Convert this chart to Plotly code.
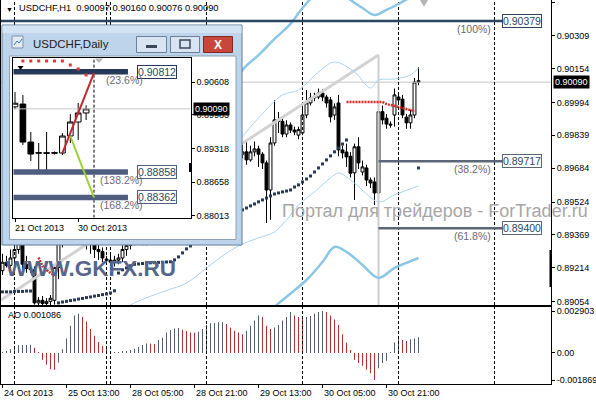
import plotly.graph_objects as go

# ---------------- H1 chart data (USDCHF, H1) ----------------
h1_open = [0.89200,0.89240,0.89225,0.89260,0.89300,0.89340,0.89230,0.89210,0.89204,0.89048,
0.89060,0.89045,0.89055,0.89060,0.89215,0.89330,0.89450,0.89560,0.89600,0.89520,
0.89430,0.89380,0.89340,0.89360,0.89300,0.89290,0.89255,0.89250,0.89240,0.89250,
0.89260,0.89300,0.89320,0.89360,0.89380,0.89410,0.89350,0.89400,0.89360,0.89420,
0.89460,0.89490,0.89520,0.89540,0.89530,0.89510,0.89500,0.89540,0.89580,0.89560,
0.89570,0.89560,0.89580,0.89620,0.89660,0.89700,0.89690,0.89740,0.89780,0.89760,
0.89750,0.89761,0.89723,0.89761,0.89775,0.89750,0.89709,0.89581,0.89803,0.89912,
0.89905,0.89845,0.89888,0.89864,0.89840,0.89850,0.89935,0.89992,0.90016,0.90020,
0.90039,0.90020,0.90006,0.89935,0.89992,0.89770,0.89760,0.89740,0.89662,0.89785,
0.89666,0.89685,0.89628,0.89619,0.89567,0.89951,0.89920,0.89892,0.89935,0.90020,
0.90010,0.89925,0.89898,0.89935,0.90097]
h1_high = [0.89280,0.89270,0.89300,0.89330,0.89380,0.89360,0.89270,0.89240,0.89220,0.89075,
0.89080,0.89070,0.89085,0.89230,0.89360,0.89480,0.89580,0.89640,0.89620,0.89560,
0.89470,0.89420,0.89400,0.89390,0.89340,0.89310,0.89270,0.89280,0.89270,0.89280,
0.89320,0.89340,0.89380,0.89400,0.89430,0.89450,0.89420,0.89440,0.89450,0.89480,
0.89510,0.89540,0.89560,0.89570,0.89560,0.89540,0.89560,0.89600,0.89610,0.89590,
0.89600,0.89600,0.89640,0.89680,0.89720,0.89740,0.89760,0.89800,0.89820,0.89790,
0.89800,0.89817,0.89790,0.89810,0.89790,0.89760,0.89720,0.89830,0.90006,0.89949,
0.89930,0.89910,0.89900,0.89880,0.89880,0.89992,0.90053,0.90040,0.90040,0.90060,
0.90056,0.90030,0.90020,0.89990,0.90030,0.89790,0.89800,0.89760,0.89800,0.89830,
0.89720,0.89700,0.89640,0.89640,0.90218,0.89980,0.89940,0.89905,0.90060,0.90040,
0.90030,0.89940,0.89960,0.90110,0.90160]
h1_low = [0.89180,0.89215,0.89210,0.89240,0.89280,0.89205,0.89190,0.89190,0.89040,0.89030,
0.89020,0.89000,0.88990,0.89040,0.89160,0.89310,0.89420,0.89500,0.89480,0.89400,
0.89330,0.89300,0.89280,0.89260,0.89250,0.89240,0.89230,0.89220,0.89220,0.89230,
0.89240,0.89270,0.89300,0.89320,0.89340,0.89320,0.89320,0.89330,0.89340,0.89380,
0.89420,0.89450,0.89480,0.89500,0.89490,0.89470,0.89480,0.89520,0.89540,0.89530,
0.89540,0.89530,0.89560,0.89600,0.89630,0.89660,0.89670,0.89720,0.89740,0.89720,
0.89730,0.89700,0.89715,0.89740,0.89690,0.89680,0.89425,0.89440,0.89790,0.89850,
0.89830,0.89830,0.89850,0.89840,0.89820,0.89840,0.89920,0.89980,0.90000,0.90010,
0.90000,0.89970,0.89900,0.89912,0.89740,0.89730,0.89690,0.89640,0.89534,0.89680,
0.89650,0.89600,0.89590,0.89510,0.89501,0.89890,0.89870,0.89875,0.89880,0.89990,
0.89920,0.89870,0.89870,0.89920,0.90076]
h1_close = [0.89240,0.89225,0.89260,0.89300,0.89350,0.89230,0.89210,0.89205,0.89048,0.89060,
0.89045,0.89055,0.89070,0.89215,0.89330,0.89450,0.89560,0.89600,0.89520,0.89430,
0.89380,0.89340,0.89360,0.89300,0.89290,0.89260,0.89250,0.89240,0.89250,0.89260,
0.89300,0.89320,0.89360,0.89380,0.89410,0.89350,0.89400,0.89360,0.89420,0.89460,
0.89490,0.89520,0.89540,0.89530,0.89510,0.89500,0.89540,0.89580,0.89560,0.89570,
0.89560,0.89580,0.89620,0.89660,0.89700,0.89690,0.89740,0.89780,0.89760,0.89750,
0.89761,0.89723,0.89761,0.89775,0.89750,0.89709,0.89581,0.89803,0.89912,0.89905,
0.89845,0.89888,0.89864,0.89855,0.89866,0.89935,0.89992,0.90016,0.90020,0.90039,
0.90020,0.89992,0.89926,0.89973,0.89770,0.89756,0.89737,0.89660,0.89785,0.89709,
0.89690,0.89628,0.89614,0.89567,0.89951,0.89912,0.89892,0.89888,0.90030,0.90006,
0.89935,0.89898,0.89935,0.90091,0.90090]
h1_index = list(range(len(h1_close)))

# Parabolic SAR (dark, below price) and red dotted line (above price)
sar_dark = [0.89100,0.89100,0.89100,0.89102,0.89102,0.89102,0.89104,0.89104,None,None,
None,None,None,None,0.89048,0.89052,0.89055,0.89059,0.89062,0.89066,
0.89069,0.89073,0.89076,0.89080,0.89083,0.89087,0.89090,0.89095,0.89105,0.89189,
0.89204,0.89213,0.89223,0.89230,0.89232,0.89234,0.89236,0.89237,0.89238,0.89239,
0.89240,0.89241,0.89242,0.89251,0.89265,0.89284,0.89303,0.89317,0.89331,0.89345,
0.89355,0.89369,0.89383,0.89397,0.89407,0.89421,0.89435,0.89449,0.89463,0.89477,
0.89487,0.89496,0.89506,0.89515,0.89525,0.89534,0.89543,0.89553,0.89562,0.89567,
0.89572,0.89576,0.89581,0.89595,0.89605,0.89619,0.89633,0.89647,0.89666,0.89685,
0.89704,0.89723,0.89742,0.89761,0.89779,0.89798,0.89817,None,None,None,
None,None,None,None,None,None,None,None,None,None,
None,None,None,None,0.89685]
sar_red = ([None] * 9 + [0.89262, 0.89223, 0.89204, 0.89189, 0.89175] + [None] * 72
           + [0.89997] * 10
           + [0.89987, 0.89982, 0.89978, 0.89973, 0.89968, 0.89964, 0.89959, 0.89954, None])

# band lines (light blue), sampled at bar indices
thick_up_i = [40, 48, 56, 60, 64, 68, 72, 75, 79, 83, 87, 90, 93, 96, 99, 102, 104]
thick_up_p = [0.89850, 0.89950, 0.90006, 0.90148, 0.90218, 0.90294, 0.90365, 0.90440, 0.90516,
              0.90535, 0.90478, 0.90440, 0.90407, 0.90431, 0.90459, 0.90492, 0.90516]
thick_lo_i = [60, 68, 76, 80, 83, 86, 90, 94, 98, 101, 104]
thick_lo_p = [0.88873, 0.89029, 0.89156, 0.89241, 0.89312, 0.89289, 0.89227, 0.89166, 0.89213, 0.89237, 0.89260]
thin_up_i = [40, 50, 59, 64, 70, 74, 79, 83, 88, 92, 94, 98, 102, 104]
thin_up_p = [0.89600, 0.89700, 0.89817, 0.89921, 0.90030, 0.90053, 0.90138, 0.90185, 0.90138,
             0.90063, 0.90100, 0.90105, 0.90124, 0.90157]
thin_lo_i = [28, 33, 40, 46, 51, 55, 59, 64, 68, 71, 74, 78, 82, 84, 88, 94, 98, 104]
thin_lo_p = [0.88990, 0.89048, 0.89100, 0.89142, 0.89213, 0.89270, 0.89317, 0.89355, 0.89383,
             0.89440, 0.89510, 0.89572, 0.89638, 0.89661, 0.89614, 0.89525, 0.89558, 0.89600]

# Fibonacci objects
fibo_levels = [0.90379, 0.89717, 0.89400]
fibo_pct = ["(100%)", "(38.2%)", "(61.8%)"]
fibo_start = [-0.375, 94, 94]
fibo_end = 124.9
fibo_colors = ["#2c4660", "#5b6777", "#5b6777"]
fibo_trend_i = [-0.375, 94]
fibo_trend_p = [0.89062, 0.90218]

# Awesome Oscillator
ao = [0.00006,0.00013,0.00025,0.00048,0.00053,0.00055,0.00056,0.00057,0.00036,0.00006,
-0.00046,-0.00081,-0.00112,-0.00116,-0.00065,0.00025,0.00100,0.00189,0.00260,0.00271,
0.00248,0.00217,0.00166,0.00119,0.00076,0.00048,0.00029,0.00006,0.00004,0.00005,
0.00007,0.00011,0.00020,0.00029,0.00041,0.00055,0.00065,0.00063,0.00062,0.00090,
0.00105,0.00142,0.00159,0.00170,0.00173,0.00161,0.00152,0.00142,0.00140,0.00147,
0.00166,0.00194,0.00206,0.00208,0.00213,0.00215,0.00201,0.00177,0.00154,0.00142,
0.00130,0.00154,0.00189,0.00224,0.00260,0.00248,0.00189,0.00166,0.00177,0.00194,
0.00224,0.00248,0.00283,0.00260,0.00248,0.00241,0.00248,0.00255,0.00271,0.00283,
0.002903,0.00283,0.00260,0.00231,0.00194,0.00130,0.00072,0.00020,-0.00046,-0.00069,
-0.00088,-0.00116,-0.00140,-0.001869,-0.00105,-0.00069,-0.00053,0.00002,0.00072,0.00114,
0.00090,0.00083,0.00095,0.00100,0.001086]

# axes ticks / labels
x_label_pos = [0, 16, 32, 48, 64, 80, 96]
x_label_text = ["24 Oct 2013", "25 Oct 13:00", "28 Oct 05:00", "28 Oct 21:00",
                "29 Oct 13:00", "30 Oct 05:00", "30 Oct 21:00"]
day_sep_pos = [3, 26, 27, 51, 75, 99, 123]
price_ticks = [0.90464, 0.90309, 0.90154, 0.89994, 0.89839, 0.89684, 0.89524, 0.89369, 0.89214, 0.89054]
ao_ticks = [0.002903, 0.0, -0.001869]
ao_tick_text = ["0.002903", "0.00", "-0.001869"]

# ---------------- Daily inset data ----------------
d_open = [0.90130, 0.90184, 0.89443, 0.89225, 0.89235, 0.89225, 0.89229, 0.89561, 0.89834, 0.90010]
d_high = [0.90420, 0.90360, 0.89639, 0.89424, 0.89639, 0.89260, 0.89619, 0.89988, 0.90204, 0.90160]
d_low = [0.90080, 0.89385, 0.89073, 0.88898, 0.88898, 0.89200, 0.89190, 0.89424, 0.89483, 0.89873]
d_close = [0.90200, 0.89443, 0.89209, 0.89235, 0.89225, 0.89235, 0.89561, 0.89834, 0.90010, 0.90090]
d_index = list(range(len(d_close)))
d_sar_i = [1, 2, 3, 4, 5, 6, 7, 8, 9]
d_sar = [0.91023, 0.91023, 0.91023, 0.91023, 0.91023, 0.91023, 0.90945, 0.90867, 0.90750]
d_label_pos = [0, 8]
d_label_text = ["21 Oct 2013", "30 Oct 2013"]
d_ticks = [0.90608, 0.89983, 0.89318, 0.88658, 0.88013]
d_fibo_levels = [0.90812, 0.88858, 0.88362]
d_fibo_pct = ["(23.6%)", "(138.2%)", "(168.2%)"]
d_fibo_colors = ["#26395a", "#4f5e7e", "#4f5e7e"]
d_fibo_end = 14.3
d_red_i, d_red_p = [6, 10], [0.89229, 0.90790]
d_green_i, d_green_p = [7, 10], [0.89561, 0.88362]
d_sep = 10

# ---------------- geometry ----------------
W, H = 596, 400
ML, MR, MT, MB = 1, 45, 0, 16
PW = W - ML - MR
PH = H - MT - MB


def pxx(v):
    return (v - ML) / PW


def pxy(v):
    return (H - MB - v) / PH


FONT = "Liberation Sans, Arial, sans-serif"
X_RANGE = [-0.375, 137.125]
Y_RANGE = [0.89038, 0.90478]
AO_RANGE = [-0.002145, 0.00318]
DX_RANGE = [-0.215, 22.24]
DY_RANGE = [0.87968, 0.91076]

fig = go.Figure()

# ---- main pane (xy) ----
last = h1_close[-1]
fig.add_trace(go.Scatter(x=X_RANGE, y=[last, last], mode="lines",
                         line=dict(color="#c6c6c6", width=1), xaxis="x", yaxis="y"))
sx, sy = [], []
for s in day_sep_pos:
    sx += [s, s, None]
    sy += [Y_RANGE[0], Y_RANGE[1], None]
fig.add_trace(go.Scatter(x=sx, y=sy, mode="lines",
                         line=dict(color="black", width=1, dash="3px,2px"), xaxis="x", yaxis="y"))
fig.add_trace(go.Scatter(x=fibo_trend_i, y=fibo_trend_p, mode="lines",
                         line=dict(color="#d2d2d2", width=3), xaxis="x", yaxis="y"))
fig.add_trace(go.Scatter(x=[fibo_trend_i[1]] * 2, y=[fibo_trend_p[1], Y_RANGE[0]], mode="lines",
                         line=dict(color="#cdcdcd", width=2), xaxis="x", yaxis="y"))
for xi, yp, w, c in [(thin_up_i, thin_up_p, 1, "#aad6ee"), (thin_lo_i, thin_lo_p, 1, "#aad6ee"),
                     (thick_up_i, thick_up_p, 2.5, "#8cc6e6"), (thick_lo_i, thick_lo_p, 2.5, "#8cc6e6")]:
    fig.add_trace(go.Scatter(x=xi, y=yp, mode="lines", line=dict(color=c, width=w, shape="spline"),
                             xaxis="x", yaxis="y"))
for lv, st, col in zip(fibo_levels, fibo_start, fibo_colors):
    fig.add_trace(go.Scatter(x=[st, fibo_end], y=[lv, lv], mode="lines",
                             line=dict(color=col, width=2.5), xaxis="x", yaxis="y"))
fig.add_trace(go.Candlestick(x=h1_index, open=h1_open, high=h1_high, low=h1_low, close=h1_close,
                             increasing=dict(fillcolor="white", line=dict(color="black", width=1)),
                             decreasing=dict(fillcolor="black", line=dict(color="black", width=1)),
                             xaxis="x", yaxis="y"))
fig.add_trace(go.Scatter(x=h1_index, y=sar_dark, mode="markers",
                         marker=dict(symbol="square", size=3, color="#2a3957"), xaxis="x", yaxis="y"))
fig.add_trace(go.Scatter(x=h1_index, y=sar_red, mode="lines",
                         line=dict(color="#d52a2a", width=2.5, dash="2px,1px"), xaxis="x", yaxis="y"))

# ---- AO pane (x2y2) ----
sx2, sy2 = [], []
for s in day_sep_pos:
    sx2 += [s, s, None]
    sy2 += [AO_RANGE[0], AO_RANGE[1], None]
fig.add_trace(go.Scatter(x=sx2, y=sy2, mode="lines",
                         line=dict(color="black", width=1, dash="3px,2px"), xaxis="x2", yaxis="y2"))
ao_colors = ["#4f5e70" if k == 0 or ao[k] > ao[k - 1] else "#b42f33" for k in range(len(ao))]
fig.add_trace(go.Bar(x=h1_index, y=ao, width=0.25, marker=dict(color=ao_colors, line=dict(width=0)),
                     xaxis="x2", yaxis="y2"))

# ---- inset window body (x3y3, pixel coordinates) ----
fig.add_trace(go.Scatter(x=[2, 242, 242, 2, 2], y=[25, 25, 245, 245, 25], mode="lines",
                         fill="toself", fillcolor="#bed4ea", line=dict(color="#5f7d9b", width=1),
                         xaxis="x3", yaxis="y3"))
fig.add_trace(go.Scatter(x=[2.5, 241.5, 241.5, 2.5, 2.5], y=[25.5, 25.5, 33, 33, 25.5], mode="lines",
                         fill="toself", fillcolor="#d3e3f3", line=dict(width=0),
                         xaxis="x3", yaxis="y3"))
fig.add_trace(go.Scatter(x=[9.5, 236, 236, 9.5, 9.5], y=[56, 56, 239.5, 239.5, 56], mode="lines",
                         fill="toself", fillcolor="white", line=dict(color="#8aa1b8", width=1),
                         xaxis="x3", yaxis="y3"))

# ---- daily chart (x4y4) ----
fig.add_trace(go.Scatter(x=DX_RANGE, y=[d_close[-1]] * 2, mode="lines",
                         line=dict(color="#c6c6c6", width=1), xaxis="x4", yaxis="y4"))
fig.add_trace(go.Scatter(x=[d_sep, d_sep], y=DY_RANGE, mode="lines",
                         line=dict(color="black", width=1, dash="3px,2px"), xaxis="x4", yaxis="y4"))
for lv, col in zip(d_fibo_levels, d_fibo_colors):
    fig.add_trace(go.Scatter(x=[DX_RANGE[0], d_fibo_end], y=[lv, lv], mode="lines",
                             line=dict(color=col, width=5.5), xaxis="x4", yaxis="y4"))
fig.add_trace(go.Scatter(x=d_red_i, y=d_red_p, mode="lines", line=dict(color="#c1272d", width=2),
                         xaxis="x4", yaxis="y4"))
fig.add_trace(go.Scatter(x=d_green_i, y=d_green_p, mode="lines", line=dict(color="#9ad22f", width=2),
                         xaxis="x4", yaxis="y4"))
fig.add_trace(go.Candlestick(x=d_index, open=d_open, high=d_high, low=d_low, close=d_close,
                             increasing=dict(fillcolor="white", line=dict(color="black", width=1)),
                             decreasing=dict(fillcolor="black", line=dict(color="black", width=1)),
                             xaxis="x4", yaxis="y4"))
fig.add_trace(go.Scatter(x=d_sar_i, y=d_sar, mode="markers",
                         marker=dict(symbol="square", size=3, color="#e03a3a"), xaxis="x4", yaxis="y4"))

# ---------------- annotations ----------------
ann = []
tf = dict(family=FONT, size=9, color="black")
ann.append(dict(xref="paper", yref="paper", x=pxx(4), y=pxy(9), xanchor="left", yanchor="middle",
                text="▼", showarrow=False, font=dict(family=FONT, size=7, color="black")))
ann.append(dict(xref="paper", yref="paper", x=pxx(17), y=pxy(8), xanchor="left", yanchor="middle",
                showarrow=False, font=dict(family=FONT, size=9.3, color="black"),
                text="USDCHF,H1  %.5f %.5f %.5f %.5f" % (h1_open[-1], h1_high[-1], h1_low[-1], h1_close[-1])))
for p, t in zip(x_label_pos, x_label_text):
    ann.append(dict(xref="x2", yref="paper", x=p, y=0, xanchor="left", yanchor="top", xshift=-1,
                    yshift=-2, text=t, showarrow=False, font=tf))
ann.append(dict(xref="paper", yref="paper", x=pxx(6), y=pxy(315), xanchor="left", yanchor="middle",
                text="AO %.6f" % ao[-1], showarrow=False, font=tf))
ann.append(dict(xref="paper", yref="y", x=1, y=last, xanchor="left", yanchor="middle", xshift=2,
                text="%.5f" % last, showarrow=False, bgcolor="black", borderpad=1,
                font=dict(family=FONT, size=9, color="white")))
for lv, pc, col in zip(fibo_levels, fibo_pct, fibo_colors):
    ann.append(dict(xref="x", yref="y", x=fibo_end, y=lv, xanchor="left", yanchor="middle",
                    text="%.5f" % lv, showarrow=False, bgcolor="white", bordercolor=col,
                    borderwidth=1, borderpad=0, font=dict(family=FONT, size=10.5, color="#2c4660")))
    ann.append(dict(xref="x", yref="y", x=fibo_end, y=lv, xanchor="right", yanchor="middle",
                    xshift=-9, yshift=-8, text=pc, showarrow=False,
                    font=dict(family=FONT, size=10.5, color="#6a6a74")))
ann.append(dict(xref="paper", yref="paper", x=pxx(435), y=pxy(211), xanchor="center", yanchor="middle",
                text="Портал для трейдеров - ForTrader.ru", showarrow=False,
                font=dict(family=FONT, size=18, color="#a6a6a6")))
ann.append(dict(xref="paper", yref="paper", x=pxx(91), y=pxy(268), xanchor="center", yanchor="middle",
                text="<b>WWW.GKFX.RU</b>", showarrow=False,
                font=dict(family=FONT, size=22.5, color="#56668a")))
# window title
ann.append(dict(xref="x3", yref="y3", x=31, y=44, xanchor="left", yanchor="middle",
                text="USDCHF,Daily", showarrow=False, font=dict(family=FONT, size=11.5, color="#1c1c1c")))
ann.append(dict(xref="x3", yref="y3", x=218, y=44.5, xanchor="center", yanchor="middle",
                text="<b>X</b>", showarrow=False, font=dict(family=FONT, size=12, color="white")))
# daily axis labels & objects
for p, t in zip(d_label_pos, d_label_text):
    ann.append(dict(xref="x4", yref="y4 domain", x=p, y=0, xanchor="left", yanchor="top", xshift=-2,
                    yshift=-3, text=t, showarrow=False, font=tf))
ann.append(dict(xref="x4 domain", yref="y4", x=1, y=d_close[-1], xanchor="left", yanchor="middle",
                xshift=2, text="%.5f" % d_close[-1], showarrow=False, bgcolor="black", borderpad=1,
                font=dict(family=FONT, size=9, color="white")))
for lv, pc, col in zip(d_fibo_levels, d_fibo_pct, d_fibo_colors):
    ann.append(dict(xref="x4", yref="y4", x=d_fibo_end, y=lv, xanchor="left", yanchor="middle",
                    xshift=9, text="%.5f" % lv, showarrow=False, bgcolor="white", bordercolor=col,
                    borderwidth=1, borderpad=0, font=dict(family=FONT, size=10.5, color="#2c4660")))
    ann.append(dict(xref="x4", yref="y4", x=d_fibo_end, y=lv, xanchor="right", yanchor="middle",
                    xshift=17, yshift=-8, text=pc, showarrow=False,
                    font=dict(family=FONT, size=10.5, color="#6a6a74")))

# ---------------- decorative shapes ----------------
shapes = []
btn = dict(type="rect", xref="x3", yref="y3", layer="above", line=dict(color="#6a819c", width=1))
shapes.append(dict(btn, x0=136.5, x1=166.5, y0=36.5, y1=52.5, fillcolor="#d8e4f1"))
shapes.append(dict(btn, x0=170.5, x1=199.5, y0=36.5, y1=52.5, fillcolor="#d8e4f1"))
shapes.append(dict(btn, x0=203.5, x1=232.5, y0=36.5, y1=52.5, fillcolor="#c8463a",
                   line=dict(color="#7e2a22", width=1)))
shapes.append(dict(type="rect", xref="x3", yref="y3", layer="above", x0=146, x1=157, y0=45, y1=48,
                   fillcolor="#3b4759", line=dict(width=0)))
shapes.append(dict(type="rect", xref="x3", yref="y3", layer="above", x0=180, x1=190, y0=40, y1=48,
                   line=dict(color="#3b4759", width=1.5)))
shapes.append(dict(type="rect", xref="x3", yref="y3", layer="above", x0=12, x1=23, y0=36, y1=48,
                   fillcolor="#e2eaf3", line=dict(color="#7f93ab", width=1)))
shapes.append(dict(type="path", xref="x3", yref="y3", layer="above", path="M14,45 L17,41 L19,43 L22,39",
                   line=dict(color="#3a78b8", width=1)))
shapes.append(dict(type="path", xref="x3", yref="y3", layer="above", path="M420,0 L428,0 L424,7 Z",
                   fillcolor="#b4b4b4", line=dict(width=0)))
shapes.append(dict(type="path", xref="x3", yref="y3", layer="above", path="M95,58.5 L103,58.5 L99,63 Z",
                   fillcolor="#b4b4b4", line=dict(width=0)))
shapes.append(dict(type="path", xref="x3", yref="y3", layer="above", path="M17.5,66 L23.5,66 L20.5,70 Z",
                   fillcolor="black", line=dict(width=0)))
shapes.append(dict(type="line", xref="x3", yref="y3", layer="above", x0=551, x1=551, y0=250, y1=287,
                   line=dict(color="black", width=3)))
shapes.append(dict(type="line", xref="x3", yref="y3", layer="above", x0=190.5, x1=190.5, y0=163, y1=172,
                   line=dict(color="black", width=3)))

ax_common = dict(showgrid=False, zeroline=False, showline=True, mirror=True, linecolor="black",
                 linewidth=1, ticks="outside", ticklen=3, tickcolor="black", tickfont=tf, fixedrange=True)

fig.update_layout(
    width=W, height=H, margin=dict(l=ML, r=MR, t=MT, b=MB),
    paper_bgcolor="white", plot_bgcolor="rgba(0,0,0,0)", showlegend=False,
    annotations=ann, shapes=shapes, boxgap=0.2, boxgroupgap=0.1,
    xaxis=dict(ax_common, domain=[0, 1], range=X_RANGE, anchor="y", showticklabels=False, ticks="",
               rangeslider=dict(visible=False)),
    yaxis=dict(ax_common, domain=[pxy(305), 1], range=Y_RANGE, anchor="x", side="right",
               tickvals=price_ticks, ticktext=["%.5f" % v for v in price_ticks]),
    xaxis2=dict(ax_common, domain=[0, 1], range=X_RANGE, anchor="y2", showticklabels=False,
                tickvals=x_label_pos),
    yaxis2=dict(ax_common, domain=[0, pxy(307)], range=AO_RANGE, anchor="x2", side="right",
                tickvals=ao_ticks, ticktext=ao_tick_text),
    xaxis3=dict(domain=[0, 1], range=[ML, ML + PW], anchor="y3", visible=False, fixedrange=True),
    yaxis3=dict(domain=[0, 1], range=[PH, 0], anchor="x3", visible=False, fixedrange=True),
    xaxis4=dict(ax_common, domain=[pxx(13.3), pxx(190.7)], range=DX_RANGE, anchor="y4",
                showticklabels=False, tickvals=d_label_pos, rangeslider=dict(visible=False)),
    yaxis4=dict(ax_common, domain=[pxy(217.7), pxy(58.3)], range=DY_RANGE, anchor="x4", side="right",
                tickvals=d_ticks, ticktext=["%.5f" % v for v in d_ticks]),
)

fig.write_html("out.html", config={"displayModeBar": False},
               post_script="document.body.style.margin='0px';document.body.style.overflow='hidden';")
